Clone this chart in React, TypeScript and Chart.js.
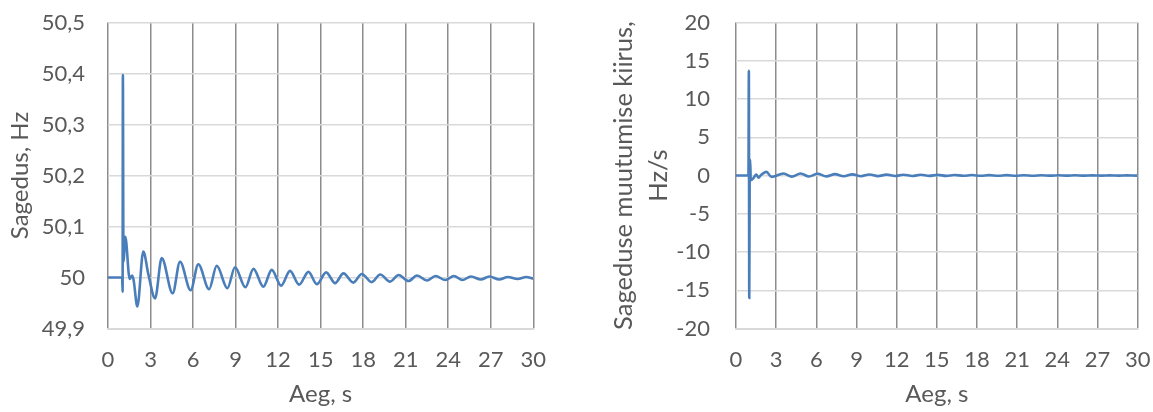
import { useEffect, useRef } from 'react';
import { Chart, registerables } from 'chart.js';

Chart.register(...registerables);

// Frequency response after the disturbance (time in s, frequency in Hz)
const freqTime = [
  0, 1.0, 1.03, 1.05, 1.09, 1.22, 1.53, 1.69, 1.8, 2.07,
  2.49, 2.85, 3.32, 3.79, 4.56, 5.08, 5.83, 6.37, 7.13, 7.67,
  8.42, 8.96, 9.69, 10.26, 10.96, 11.55, 12.21, 12.84, 13.48, 14.14,
  14.73, 15.39, 16.02, 16.61, 17.3, 17.9, 18.6, 19.2, 19.9, 20.5,
  21.2, 21.8, 22.5, 23.1, 23.8, 24.4, 25.0, 25.6, 26.3, 26.9,
  27.6, 28.2, 28.9, 29.5, 30,
];
const freqHz = [
  50, 50, 49.972, 50.397, 50.031, 50.08, 49.997, 50.004, 49.996, 49.943,
  50.051, 50.006, 49.959, 50.038, 49.969, 50.031, 49.975, 50.026, 49.977, 50.023,
  49.979, 50.02, 49.981, 50.017, 49.982, 50.015, 49.984, 50.013, 49.986, 50.011,
  49.987, 50.01, 49.989, 50.008, 49.99, 50.007, 49.991, 50.006, 49.992, 50.005,
  49.993, 50.004, 49.994, 50.003, 49.995, 50.003, 49.995, 50.002, 49.996, 50.002,
  49.996, 50.001, 49.997, 50.001, 49.998,
];

// Rate of change of frequency (time in s, Hz/s)
const rocofTime = [
  0, 0.93, 0.96, 0.99, 1.02, 1.06, 1.1, 1.32, 1.51, 1.69,
  1.86, 2.27, 2.65, 3.55, 4.17, 4.82, 5.45, 6.1, 6.75, 7.4,
  8.04, 8.69, 9.33, 9.97, 10.6, 11.25, 11.88, 12.5, 13.16, 13.8,
  14.43, 15.06, 15.7, 16.3, 17.0, 17.6, 18.3, 18.9, 19.6, 20.2,
  20.9, 21.5, 22.2, 22.8, 23.5, 24.1, 24.7, 25.3, 26.0, 26.6,
  27.3, 27.9, 28.6, 29.2, 29.9, 30,
];
const rocofHzs = [
  0, 0, 13.7, -16.0, -1.3, 2.1, -0.6, -0.3, 0.13, -0.3,
  0.05, 0.48, -0.18, 0.26, -0.15, 0.26, -0.13, 0.22, -0.12, 0.18,
  -0.1, 0.15, -0.09, 0.13, -0.08, 0.11, -0.07, 0.1, -0.06, 0.09,
  -0.05, 0.08, -0.05, 0.07, -0.04, 0.06, -0.04, 0.05, -0.03, 0.05,
  -0.03, 0.04, -0.03, 0.04, -0.02, 0.03, -0.02, 0.03, -0.02, 0.02,
  -0.02, 0.02, -0.01, 0.02, -0.01, 0,
];

const X_TITLE = 'Aeg, s';
const FREQ_TITLE = 'Sagedus, Hz';
const ROCOF_TITLE = ['Sageduse muutumise kiirus,', 'Hz/s'];

const FONT = 'Lato, "Liberation Sans", sans-serif';
const TEXT = '#595959';
const LINE = '#4a7ebb';
const V_GRID = '#8c8c8c';
const H_GRID = '#d9d9d9';
const TICK_SIZE = 22;
const TITLE_SIZE = 24;

const H = 412;
const PLOT_TOP = 22.5;
const PLOT_BOTTOM = 328.5;

const commaNum = (v: number) => String(Number(v.toFixed(1))).replace('.', ',');
const plainNum = (v: number) => String(Math.round(v));

type PanelProps = {
  left: number;
  width: number;
  xs: number[];
  ys: number[];
  yMin: number;
  yMax: number;
  yStep: number;
  yTitle: string | string[];
  yTitleSize: number;
  yAxisWidth: number;
  yTickGap: number;
  yTitlePad: number;
  yTitleLineHeight: number;
  padRight: number;
  fmt: (v: number) => string;
};

function Panel(p: PanelProps) {
  const ref = useRef<HTMLCanvasElement | null>(null);

  useEffect(() => {
    const canvas = ref.current;
    if (!canvas) return;
    const chart = new Chart(canvas, {
      type: 'line',
      data: {
        datasets: [
          {
            data: p.xs.map((x, i) => ({ x, y: p.ys[i] })),
            borderColor: LINE,
            borderWidth: 2.6,
            pointRadius: 0,
            cubicInterpolationMode: 'monotone',
            fill: false,
          },
        ],
      },
      options: {
        responsive: false,
        animation: false,
        events: [],
        layout: { padding: { top: PLOT_TOP, right: p.padRight, bottom: 0, left: 0 } },
        plugins: { legend: { display: false }, tooltip: { enabled: false } },
        scales: {
          x: {
            type: 'linear',
            min: 0,
            max: 30,
            ticks: {
              stepSize: 3,
              color: TEXT,
              font: { family: FONT, size: TICK_SIZE },
              padding: 0,
              maxRotation: 0,
              autoSkip: false,
            },
            // the tick gap comes from invisible tick marks so that it does not widen the side padding
            grid: { color: V_GRID, lineWidth: 1.5, drawTicks: true, tickLength: 18, tickColor: 'rgba(0,0,0,0)' },
            border: { color: H_GRID, width: 2 },
            title: {
              display: true,
              text: X_TITLE,
              color: TEXT,
              font: { family: FONT, size: TITLE_SIZE },
              padding: { top: 0, bottom: 3 },
            },
            afterFit: (s: any) => {
              s.height = H - PLOT_BOTTOM;
            },
          },
          y: {
            min: p.yMin,
            max: p.yMax,
            ticks: {
              stepSize: p.yStep,
              color: TEXT,
              font: { family: FONT, size: TICK_SIZE },
              padding: 0,
              callback: (v: any) => p.fmt(Number(v)),
            },
            grid: { color: H_GRID, lineWidth: 1.5, drawTicks: true, tickLength: p.yTickGap, tickColor: 'rgba(0,0,0,0)' },
            border: { display: false },
            title: {
              display: true,
              text: p.yTitle,
              color: TEXT,
              font: { family: FONT, size: p.yTitleSize, lineHeight: p.yTitleLineHeight },
              padding: { top: p.yTitlePad, bottom: 0 },
            },
            afterFit: (s: any) => {
              s.width = p.yAxisWidth;
            },
          },
        },
      },
    } as any);
    return () => chart.destroy();
  }, []);

  return (
    <canvas
      ref={ref}
      width={p.width}
      height={H}
      style={{ position: 'absolute', left: p.left, top: 0, width: p.width, height: H, display: 'block' }}
    />
  );
}

export default function App() {
  return (
    <div style={{ position: 'fixed', left: 0, top: 0, width: 1153, height: H, background: '#ffffff' }}>
      <Panel
        left={0}
        width={560}
        xs={freqTime}
        ys={freqHz}
        yMin={49.9}
        yMax={50.5}
        yStep={0.1}
        yTitle={FREQ_TITLE}
        yTitleSize={TITLE_SIZE}
        yAxisWidth={108}
        yTickGap={23}
        yTitlePad={6}
        yTitleLineHeight={1.2}
        padRight={26.7}
        fmt={commaNum}
      />
      <Panel
        left={576}
        width={577}
        xs={rocofTime}
        ys={rocofHzs}
        yMin={-20}
        yMax={20}
        yStep={5}
        yTitle={ROCOF_TITLE}
        yTitleSize={25.5}
        yAxisWidth={160}
        yTickGap={26}
        yTitlePad={30}
        yTitleLineHeight={1.38}
        padRight={15.3}
        fmt={plainNum}
      />
    </div>
  );
}
